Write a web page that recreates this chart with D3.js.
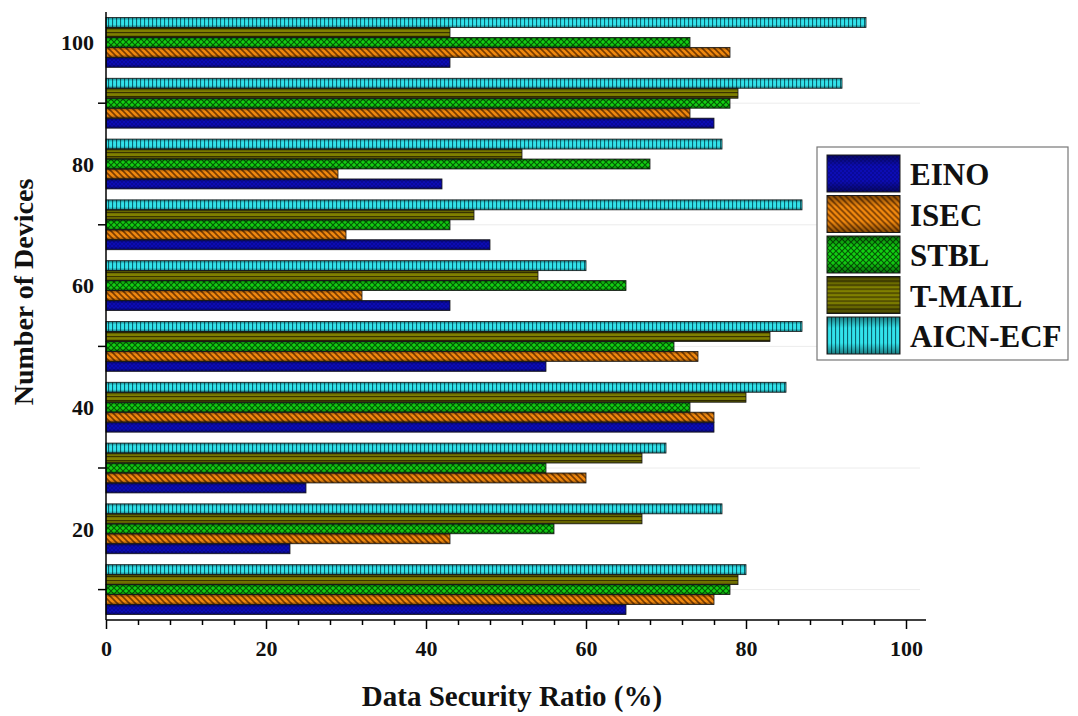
<!DOCTYPE html>
<html>
<head>
    <script type="text/javascript" src="https://cdn.jsdelivr.net/npm/d3@7"></script>
    <style>
        body { margin: 0; background: #fff; }
        text { font-family: "Liberation Serif", "Times New Roman", serif; font-weight: bold; }
    </style>
</head>
<body>
    <div id="viz"></div>
    <script type="text/javascript">

    // data
    var devices = [10, 20, 30, 40, 50, 60, 70, 80, 90, 100];
    var seriesNames = ["EINO", "ISEC", "STBL", "T-MAIL", "AICN-ECF"];
    var eino    = [65, 23, 25, 76, 55, 43, 48, 42, 76, 43];
    var isec    = [76, 43, 60, 76, 74, 32, 30, 29, 73, 78];
    var stbl    = [78, 56, 55, 73, 71, 65, 43, 68, 78, 73];
    var tmail   = [79, 67, 67, 80, 83, 54, 46, 52, 79, 43];
    var aicn    = [80, 77, 70, 85, 87, 60, 87, 77, 92, 95];
    var xTicks = [0, 20, 40, 60, 80, 100];
    var yTicks = [20, 40, 60, 80, 100];

    var values = [eino, isec, stbl, tmail, aicn];

    var svg = d3.select("#viz")
        .append("svg")
        .attr("width", 1078)
        .attr("height", 716);

    var x = d3.scaleLinear().domain([0, 102.5]).range([106, 926]);
    var y = d3.scaleLinear().domain([5, 105]).range([620, 12]);

    // patterns for the bars
    var defs = svg.append("defs");

    var p0 = defs.append("pattern").attr("id", "pat0").attr("patternUnits", "userSpaceOnUse")
        .attr("width", 4).attr("height", 4);
    p0.append("rect").attr("width", 4).attr("height", 4).attr("fill", "#0c0cb4");
    p0.append("path").attr("d", "M0,0L4,4M4,0L0,4").attr("stroke", "#07077e").attr("stroke-width", 0.5);

    var p1 = defs.append("pattern").attr("id", "pat1").attr("patternUnits", "userSpaceOnUse")
        .attr("width", 6).attr("height", 6);
    p1.append("rect").attr("width", 6).attr("height", 6).attr("fill", "#f0880e");
    p1.append("path").attr("d", "M-1,-1L7,7M-1,5L1,7M5,-1L7,1").attr("stroke", "#7a3c00").attr("stroke-width", 1.6);

    var p2 = defs.append("pattern").attr("id", "pat2").attr("patternUnits", "userSpaceOnUse")
        .attr("width", 6).attr("height", 6);
    p2.append("rect").attr("width", 6).attr("height", 6).attr("fill", "#12d012");
    p2.append("path").attr("d", "M0,0L6,6M6,0L0,6").attr("stroke", "#045804").attr("stroke-width", 1.2);

    var p3 = defs.append("pattern").attr("id", "pat3").attr("patternUnits", "userSpaceOnUse")
        .attr("width", 4).attr("height", 4);
    p3.append("rect").attr("width", 4).attr("height", 4).attr("fill", "#808000");
    p3.append("path").attr("d", "M0,0.5H4").attr("stroke", "#3a3400").attr("stroke-width", 1.4);

    var p4 = defs.append("pattern").attr("id", "pat4").attr("patternUnits", "userSpaceOnUse")
        .attr("width", 4).attr("height", 4);
    p4.append("rect").attr("width", 4).attr("height", 4).attr("fill", "#32e2ea");
    p4.append("path").attr("d", "M0.5,0V4").attr("stroke", "#0a6470").attr("stroke-width", 1.2);

    // darker top/bottom edges like the original
    var shade = defs.append("linearGradient").attr("id", "shade")
        .attr("x1", 0).attr("y1", 0).attr("x2", 0).attr("y2", 1);
    shade.append("stop").attr("offset", "0%").attr("stop-color", "#000").attr("stop-opacity", 0.45);
    shade.append("stop").attr("offset", "30%").attr("stop-color", "#000").attr("stop-opacity", 0);
    shade.append("stop").attr("offset", "70%").attr("stop-color", "#000").attr("stop-opacity", 0);
    shade.append("stop").attr("offset", "100%").attr("stop-color", "#000").attr("stop-opacity", 0.45);

    // faint lines at the odd tens
    svg.append("g").selectAll("line")
        .data([10, 30, 50, 70, 90])
        .enter().append("line")
        .attr("x1", x(0)).attr("x2", 920)
        .attr("y1", function(d){ return y(d); }).attr("y2", function(d){ return y(d); })
        .attr("stroke", "#ececec");

    // bars
    var groupH = y(10) - y(18.2);
    var sub = d3.scaleBand()
        .domain(seriesNames.slice().reverse())
        .range([-groupH / 2, groupH / 2]);

    var bars = [];
    devices.forEach(function(dv, gi){
        seriesNames.forEach(function(s, si){
            bars.push({dev: dv, s: s, si: si, v: values[si][gi]});
        });
    });

    var barG = svg.append("g");
    barG.selectAll("rect.bar")
        .data(bars)
        .enter().append("rect")
        .attr("class", "bar")
        .attr("x", x(0))
        .attr("y", function(d){ return y(d.dev) + sub(d.s); })
        .attr("width", function(d){ return x(d.v) - x(0); })
        .attr("height", sub.bandwidth())
        .attr("fill", function(d){ return "url(#pat" + d.si + ")"; });
    barG.selectAll("rect.shade")
        .data(bars)
        .enter().append("rect")
        .attr("class", "shade")
        .attr("x", x(0))
        .attr("y", function(d){ return y(d.dev) + sub(d.s); })
        .attr("width", function(d){ return x(d.v) - x(0); })
        .attr("height", sub.bandwidth())
        .attr("fill", "url(#shade)")
        .attr("stroke", "#1a1a1a")
        .attr("stroke-width", 0.8);

    // x axis
    var xAxis = d3.axisBottom(x)
        .tickValues(d3.range(0, 101, 4))
        .tickFormat(function(d){ return xTicks.indexOf(d) >= 0 ? d : ""; })
        .tickSizeOuter(0)
        .tickPadding(14);
    var gx = svg.append("g").attr("transform", "translate(0,620)").call(xAxis);
    gx.select(".domain").attr("d", "M" + x(0) + ",0H" + x(102.5)).attr("stroke-width", 1.5);
    gx.selectAll(".tick line")
        .attr("y2", function(d){ return d % 20 === 0 ? 9 : 5; })
        .attr("stroke-width", 1.5);
    gx.selectAll(".tick text")
        .attr("font-size", 22)
        .attr("font-family", "Liberation Serif")
        .attr("font-weight", "bold")
        .attr("fill", "#111");

    // y axis
    var gy = svg.append("g");
    gy.append("line")
        .attr("x1", x(0)).attr("x2", x(0))
        .attr("y1", y(105)).attr("y2", y(5))
        .attr("stroke", "#000").attr("stroke-width", 1.5);
    gy.selectAll("line.minor")
        .data([10, 30, 50, 70, 90])
        .enter().append("line")
        .attr("class", "minor")
        .attr("x1", x(0) - 8).attr("x2", x(0))
        .attr("y1", function(d){ return y(d); }).attr("y2", function(d){ return y(d); })
        .attr("stroke", "#000").attr("stroke-width", 1.5);
    gy.selectAll("text")
        .data(yTicks)
        .enter().append("text")
        .attr("x", 94)
        .attr("y", function(d){ return y(d); })
        .attr("dy", "0.35em")
        .attr("text-anchor", "end")
        .attr("font-size", 22)
        .attr("fill", "#111")
        .text(function(d){ return d; });

    // axis titles
    svg.append("text")
        .attr("x", 512).attr("y", 706)
        .attr("text-anchor", "middle")
        .attr("font-size", 29)
        .attr("fill", "#111")
        .text("Data Security Ratio (%)");
    svg.append("text")
        .attr("transform", "translate(33,292) rotate(-90)")
        .attr("text-anchor", "middle")
        .attr("font-size", 28)
        .attr("fill", "#111")
        .text("Number of Devices");

    // legend
    var leg = svg.append("g").attr("transform", "translate(817,147)");
    leg.append("rect")
        .attr("width", 251).attr("height", 213)
        .attr("fill", "#fff").attr("stroke", "#777").attr("stroke-width", 1.2);
    var items = leg.selectAll("g.item")
        .data(seriesNames)
        .enter().append("g")
        .attr("class", "item")
        .attr("transform", function(d, i){ return "translate(10," + (8 + i * 40.5) + ")"; });
    items.append("rect")
        .attr("width", 73).attr("height", 37)
        .attr("fill", function(d, i){ return "url(#pat" + i + ")"; });
    items.append("rect")
        .attr("width", 73).attr("height", 37)
        .attr("fill", "url(#shade)")
        .attr("stroke", "#1a1a1a").attr("stroke-width", 1);
    items.append("text")
        .attr("x", 83).attr("y", 30)
        .attr("font-size", 31)
        .attr("fill", "#111")
        .text(function(d){ return d; });

    </script>
</body>
</html>
